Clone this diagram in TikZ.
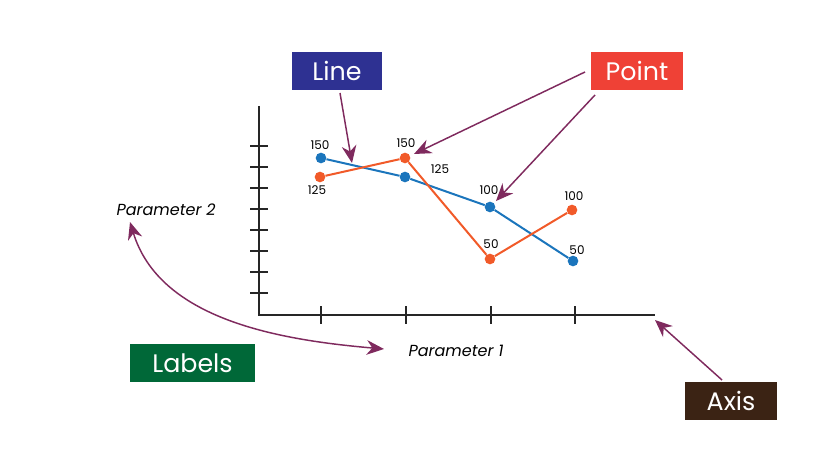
\documentclass[tikz,border=0pt]{standalone}
\usepackage{fontspec}
\setmainfont{Poppins}
\usetikzlibrary{arrows.meta}
\definecolor{arr}{HTML}{7F2A5E}
\definecolor{bl}{HTML}{1B75BC}
\definecolor{og}{HTML}{F15A29}
\begin{document}
\begin{tikzpicture}[x=0.75pt,y=-0.75pt,
 ax/.style={line width=1.6pt,black!85},
 pa/.style={arr,line width=1.1pt,-{Stealth[length=13pt,width=11pt]}},
 box/.style={text=white,font=\fontsize{19}{22}\selectfont,inner sep=0pt,minimum height=28.5pt},
 num/.style={font=\fontsize{9}{10}\selectfont},
 par/.style={font=\itshape\fontsize{12}{14}\selectfont},
 dot/.style={circle,inner sep=0pt,minimum size=8pt}]
\useasboundingbox (0,0) rectangle (827,470);
\coordinate (o) at (259,315);
\draw[ax] (259,106) -- (o) -- (655,315);
\foreach \y in {146,167,188,209,230,251,272,293} \draw[ax] (250,\y) -- (268,\y);
\foreach \x in {321,406,491,575} \draw[ax] (\x,306) -- (\x,324);
\node[dot,fill=bl] (b1) at (321,158) {};
\node[dot,fill=bl] (b2) at (405,177) {};
\node[dot,fill=bl] (b3) at (490,207) {};
\node[dot,fill=bl] (b4) at (573,261) {};
\node[dot,fill=og] (o1) at (320,177) {};
\node[dot,fill=og] (o2) at (405,158) {};
\node[dot,fill=og] (o3) at (490,259) {};
\node[dot,fill=og] (o4) at (572,210) {};
\draw[bl,line width=1.5pt] (b1)--(b2)--(b3)--(b4);
\draw[og,line width=1.5pt] (o1)--(o2)--(o3)--(o4);
\node[num] (l1) at (320,145) {150};
\node[num] (l2) at (317,190) {125};
\node[num] (l3) at (406,143) {150};
\node[num] (l4) at (440,169) {125};
\node[num] (l5) at (489,190) {100};
\node[num] (l6) at (491,244) {50};
\node[num] (l7) at (574,196) {100};
\node[num] (l8) at (577,250) {50};
\node[par] (p2) at (166,210) {Parameter 2};
\node[par] (p1) at (456,351) {Parameter 1};
\node[box,fill={rgb,255:red,46;green,49;blue,146},minimum width=67.5pt] (line) at (337,71) {Line};
\node[box,fill={rgb,255:red,239;green,65;blue,54},minimum width=69pt] (point) at (637,71) {Point};
\node[box,fill={rgb,255:red,0;green,104;blue,56},minimum width=94pt] (labels) at (192.5,363) {Labels};
\node[box,fill={rgb,255:red,59;green,35;blue,20},minimum width=69pt] (axis) at (731,401) {Axis};
\coordinate (la) at (340,93);
\coordinate (lt) at (352,163);
\draw[pa] (la) -- (lt);
\coordinate (pa1) at (585,72);
\coordinate (pt1) at (414,154);
\draw[pa] (pa1) -- (pt1);
\coordinate (pa2) at (595,95);
\coordinate (pt2) at (496,201);
\draw[pa] (pa2) -- (pt2);
\coordinate (ax1) at (722,380);
\coordinate (ax2) at (655,320);
\draw[pa] (ax1) -- (ax2);
\coordinate (c1) at (130,222);
\coordinate (c2) at (384,349);
\draw[arr,line width=1.1pt,{Stealth[length=13pt,width=11pt]}-{Stealth[length=13pt,width=11pt]}] (c1) .. controls (160,320) and (280,340) .. (c2);
\end{tikzpicture}
\end{document}
